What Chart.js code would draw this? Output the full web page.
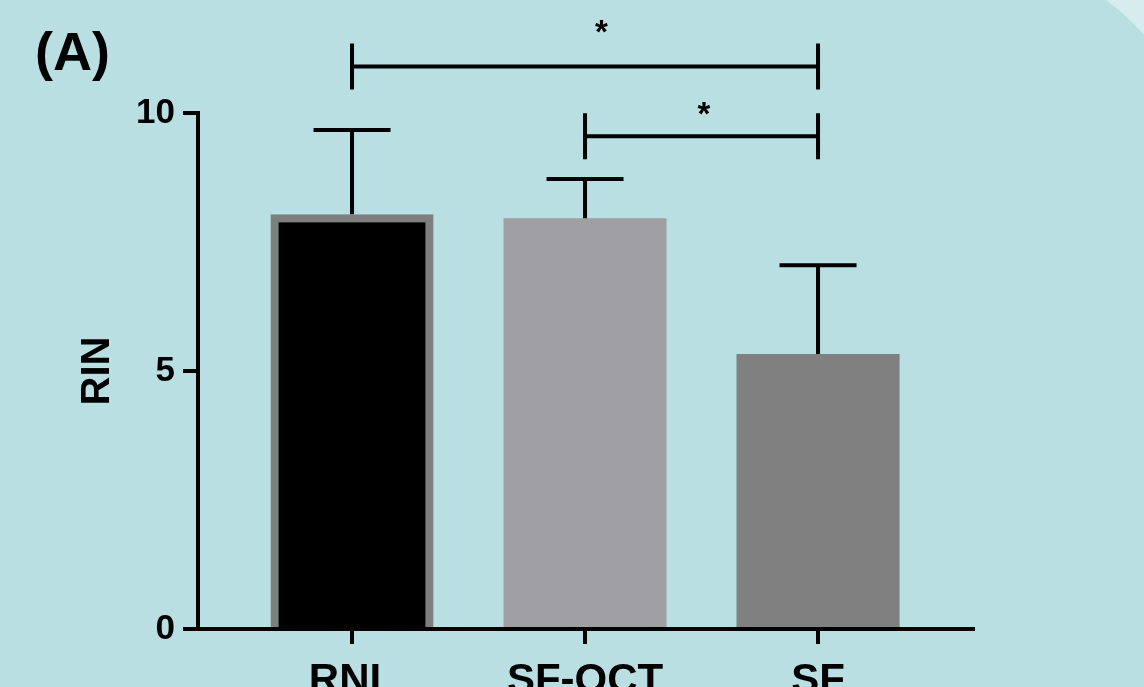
<!DOCTYPE html>
<html>
<head>
<meta charset="utf-8">
<title>RIN</title>
<script src="https://cdn.jsdelivr.net/npm/chart.js@4.4.1/dist/chart.umd.min.js"></script>
<style>
  html, body { margin: 0; padding: 0; width: 1144px; height: 687px; overflow: hidden; background: #d6ecef; }
  #panel { position: absolute; left: -20px; top: -50px; width: 1228px; height: 800px; background: #b9dfe3; border-top-right-radius: 253px; }
  #wrap { position: absolute; left: 0; top: 0; width: 1144px; height: 687px; }
</style>
</head>
<body>
<div id="panel"></div>
<div id="wrap"><canvas id="rinChart" width="1144" height="687"></canvas></div>
<script>
// datos
const categories = ['RNL', 'SF-OCT', 'SF'];
const rinMean = [8.04, 7.96, 5.33];
const rinSD = [1.63, 0.76, 1.72];
const yTicks = [0, 5, 10];
const comparisons = [[0, 2, '*'], [1, 2, '*']];

const FONT = "'Liberation Sans', Arial, Helvetica, sans-serif";

// barras de error (solo hacia arriba)
const errorBars = {
  id: 'errorBars',
  afterDatasetsDraw(chart) {
    const { ctx, scales: { x, y } } = chart;
    ctx.save();
    ctx.strokeStyle = '#000';
    ctx.lineWidth = 4;
    rinMean.forEach((m, i) => {
      const px = x.getPixelForValue(i);
      const top = y.getPixelForValue(m + rinSD[i]);
      ctx.beginPath();
      ctx.moveTo(px, y.getPixelForValue(m));
      ctx.lineTo(px, top);
      ctx.moveTo(px - 38.5, top);
      ctx.lineTo(px + 38.5, top);
      ctx.stroke();
    });
    ctx.restore();
  }
};

// corchetes de significancia + etiqueta del panel
const sigBrackets = {
  id: 'sigBrackets',
  afterDraw(chart, args, opts) {
    const { ctx, scales: { x, y } } = chart;
    ctx.save();
    ctx.strokeStyle = '#000';
    ctx.fillStyle = '#000';
    ctx.lineWidth = 4;
    comparisons.forEach(([a, b, txt], k) => {
      const lvl = opts.levels[k];
      const x1 = x.getPixelForValue(a);
      const x2 = x.getPixelForValue(b);
      const py = y.getPixelForValue(lvl.y);
      ctx.beginPath();
      ctx.moveTo(x1, py - 23); ctx.lineTo(x1, py + 23);
      ctx.moveTo(x2, py - 23); ctx.lineTo(x2, py + 23);
      ctx.moveTo(x1, py); ctx.lineTo(x2, py);
      ctx.stroke();
      ctx.font = 'bold 33px ' + FONT;
      ctx.textAlign = 'center';
      ctx.textBaseline = 'alphabetic';
      ctx.fillText(txt, x.getPixelForValue(lvl.labelX), y.getPixelForValue(lvl.labelY) + 15);
    });
    ctx.font = 'bold 54px ' + FONT;
    ctx.textAlign = 'left';
    ctx.textBaseline = 'alphabetic';
    ctx.fillText('(A)', 35, 70);
    ctx.restore();
  }
};

const ctx = document.getElementById('rinChart').getContext('2d');
const rinChart = new Chart(ctx, {
  type: 'bar',
  data: {
    datasets: [{
      data: rinMean.map((v, i) => ({ x: i, y: v })),
      backgroundColor: ['#000000', '#a09fa3', '#808080'],
      borderColor: ['#7f7f7f', '#a09fa3', '#808080'],
      borderWidth: [8, 0, 0],
      borderSkipped: 'start',
      categoryPercentage: 1,
      barPercentage: 0.7
    }]
  },
  options: {
    responsive: false,
    animation: false,
    layout: { padding: { left: 0, top: 113, right: 171, bottom: 0 } },
    plugins: {
      legend: { display: false },
      tooltip: { enabled: false },
      sigBrackets: {
        levels: [
          { y: 10.9, labelX: 1.07, labelY: 11.65 },
          { y: 9.55, labelX: 1.51, labelY: 10.06 }
        ]
      }
    },
    scales: {
      x: {
        type: 'linear',
        offset: false,
        min: -0.661,
        max: 2.665,
        afterBuildTicks: (s) => { s.ticks = categories.map((c, i) => ({ value: i })); },
        afterFit: (s) => { s.height = 58; },
        ticks: {
          callback: (v) => categories[v],
          color: '#000',
          padding: 12,
          maxRotation: 0,
          font: { family: FONT, size: 42, weight: 'bold' }
        },
        grid: { display: true, offset: false, drawOnChartArea: false, drawTicks: true, tickLength: 15, color: '#000', lineWidth: 4 },
        border: { display: true, color: '#000', width: 4 }
      },
      y: {
        min: 0,
        max: 10,
        afterBuildTicks: (s) => { s.ticks = yTicks.map(v => ({ value: v })); },
        afterFit: (s) => { s.width = 198; },
        ticks: {
          color: '#000',
          padding: 8,
          font: { family: FONT, size: 35, weight: 'bold' }
        },
        grid: { display: true, drawOnChartArea: false, drawTicks: true, tickLength: 15, color: '#000', lineWidth: 4 },
        border: { display: true, color: '#000', width: 4 },
        title: {
          display: true,
          text: 'RIN',
          color: '#000',
          padding: { top: 74, bottom: 0 },
          font: { family: FONT, size: 40, weight: 'bold' }
        }
      }
    }
  },
  plugins: [errorBars, sigBrackets]
});
</script>
</body>
</html>
